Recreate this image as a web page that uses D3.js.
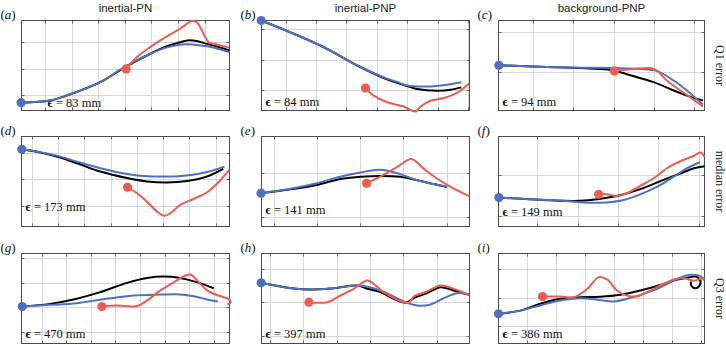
<!DOCTYPE html>
<html><head><meta charset="utf-8">
<script src="https://cdn.jsdelivr.net/npm/d3@7"></script>
<style>body{margin:0;background:#fff;overflow:hidden}</style>
</head><body><svg id="chart" width="726" height="345"></svg>
<script>
// ---------- data (grid units: one unit = one grid cell) ----------
const columnTitles = ["inertial-PN", "inertial-PNP", "background-PNP"];
const rowLabels = ["Q1 error", "median error", "Q3 error"];
const panelLetters = ["a", "b", "c", "d", "e", "f", "g", "h", "i"];
const errorsMm = [83, 84, 94, 173, 141, 149, 470, 397, 386];

const xLimits = [[0.115, 7.94], [0.21, 7.05], [0.13, 5.27],
                 [0.61, 8.53], [0.72, 5.53], [0.04, 5.14],
                 [0.18, 8.64], [0.75, 6.98], [0.02, 7.13]];
const yLimits = [[0.435, 3.82], [0.33, 3.29], [0.04, 2.29],
                 [0.2, 3.64], [0.77, 2.85], [0.73, 2.97],
                 [0.52, 4.2], [0.76, 3.46], [0.41, 3.53]];

const blackPaths = [
  [[0.1,0.73],[1.19,0.81],[1.82,1.0],[3.08,1.5],[4.0,2.06],[4.96,2.57],[5.59,2.85],[6.09,3.0],[6.35,3.07],[6.7,3.05],[7.1,2.94],[7.5,2.83],[7.93,2.69]],
  [[0.2,3.29],[1.16,2.9],[2.26,2.41],[3.36,1.81],[4.23,1.4],[4.67,1.24],[5.33,1.04],[5.99,0.98],[6.43,1.01],[6.78,1.09]],
  [[0.14,1.17],[1.34,1.13],[2.17,1.1],[2.6,1.08],[3.0,1.04],[3.42,0.92],[4.0,0.75],[4.5,0.54],[4.92,0.38],[5.23,0.29]],
  [[0.62,3.15],[1.32,3.03],[1.95,2.87],[2.72,2.62],[3.61,2.3],[4.63,2.05],[5.39,1.92],[6.15,1.88],[6.92,1.94],[7.68,2.11],[8.29,2.4]],
  [[0.71,1.54],[1.39,1.63],[2.0,1.73],[2.54,1.87],[3.01,1.92],[3.47,1.94],[3.93,1.92],[4.4,1.82],[4.7,1.75],[5.01,1.68]],
  [[0.05,1.45],[0.82,1.41],[1.65,1.37],[2.06,1.37],[2.48,1.41],[3.05,1.51],[3.55,1.66],[4.05,1.86],[4.54,2.05],[4.88,2.18],[5.14,2.23]],
  [[0.21,2.03],[1.34,2.14],[2.43,2.35],[3.38,2.62],[4.47,3.0],[5.29,3.2],[5.96,3.26],[6.64,3.2],[7.33,3.02],[8.0,2.78]],
  [[0.74,2.58],[1.32,2.47],[2.12,2.38],[2.92,2.42],[3.62,2.5],[3.92,2.4],[4.31,2.3],[4.71,2.1],[5.06,1.98],[5.31,2.12],[5.71,2.27],[6.11,2.45],[6.51,2.35],[6.97,2.22]],
  [[0.02,1.44],[0.77,1.55],[1.46,1.79],[2.15,1.96],[2.84,2.01],[3.54,2.03],[4.23,2.1],[4.92,2.25],[5.61,2.44],[6.19,2.63],[6.54,2.69],[6.8,2.73],[6.96,2.64],[6.98,2.46],[6.84,2.33],[6.68,2.41],[6.66,2.56]]
];
const bluePaths = [
  [[0.1,0.73],[1.19,0.81],[1.82,1.0],[3.08,1.5],[4.0,2.08],[4.96,2.57],[5.59,2.81],[6.16,2.92],[6.6,2.91],[7.1,2.85],[7.5,2.76],[7.93,2.63]],
  [[0.2,3.29],[1.16,2.9],[2.26,2.41],[3.36,1.81],[4.23,1.42],[4.67,1.27],[5.0,1.15],[5.66,1.12],[6.32,1.18],[6.78,1.26]],
  [[0.14,1.17],[1.34,1.13],[2.17,1.11],[3.0,1.1],[3.67,1.08],[4.08,1.03],[4.5,0.79],[4.83,0.54],[5.23,0.19]],
  [[0.62,3.15],[1.32,3.04],[1.95,2.91],[2.72,2.68],[3.61,2.43],[4.63,2.21],[5.39,2.12],[6.15,2.11],[6.92,2.15],[7.68,2.28],[8.34,2.49]],
  [[0.71,1.54],[1.39,1.64],[2.0,1.77],[2.54,1.92],[3.01,2.02],[3.47,2.08],[3.86,2.0],[4.32,1.84],[4.7,1.75],[5.01,1.69]],
  [[0.05,1.45],[0.82,1.41],[1.65,1.37],[2.31,1.32],[2.72,1.33],[3.14,1.39],[3.55,1.53],[3.97,1.72],[4.38,1.97],[4.71,2.18],[5.02,2.33]],
  [[0.21,2.03],[1.34,2.1],[2.43,2.17],[3.65,2.35],[4.74,2.48],[5.83,2.52],[6.51,2.53],[7.19,2.45],[7.73,2.32],[8.17,2.24]],
  [[0.74,2.58],[1.32,2.47],[2.12,2.38],[2.92,2.42],[3.62,2.5],[4.11,2.42],[4.61,2.22],[5.01,2.02],[5.41,1.9],[5.81,1.93],[6.21,2.12],[6.61,2.27],[6.97,2.22]],
  [[0.02,1.44],[0.77,1.55],[1.46,1.73],[2.15,1.9],[2.84,1.98],[3.42,1.93],[4.0,1.87],[4.46,1.96],[5.03,2.13],[5.61,2.36],[6.19,2.65],[6.65,2.79],[7.0,2.74],[7.13,2.59]]
];
const redPaths = [
  [[4.05,2.0],[4.45,2.44],[4.96,2.82],[5.58,3.22],[6.08,3.51],[6.52,3.8],[6.71,3.76],[6.96,3.32],[7.15,3.01],[7.47,2.92],[7.92,2.8]],
  [[3.63,1.07],[3.9,0.82],[4.35,0.6],[4.89,0.46],[5.28,0.3],[5.44,0.46],[5.77,0.65],[6.21,0.74],[6.65,0.92],[7.04,1.22]],
  [[3.02,1.03],[3.5,1.08],[3.92,1.1],[4.08,1.04],[4.33,0.79],[4.67,0.54],[5.0,0.31],[5.23,0.14]],
  [[4.65,1.7],[5.01,1.47],[5.39,1.15],[5.77,0.77],[6.05,0.61],[6.28,0.71],[6.66,1.03],[7.17,1.26],[7.68,1.51],[8.19,1.98],[8.52,2.36]],
  [[3.15,1.77],[3.47,1.92],[3.86,2.15],[4.16,2.33],[4.24,2.31],[4.55,2.04],[5.01,1.73],[5.52,1.47]],
  [[2.52,1.53],[2.72,1.53],[2.97,1.49],[3.22,1.56],[3.55,1.74],[3.88,1.93],[4.21,2.18],[4.55,2.36],[4.88,2.49],[5.04,2.57],[5.14,2.47]],
  [[3.45,2.03],[4.06,2.07],[4.88,2.05],[5.29,2.28],[5.83,2.69],[6.37,3.02],[6.78,3.27],[7.05,3.34],[7.33,3.09],[7.73,2.69],[8.28,2.45],[8.63,2.32],[8.69,2.21],[8.55,2.11]],
  [[2.17,2.0],[2.72,2.0],[3.12,2.2],[3.51,2.4],[3.92,2.65],[4.11,2.55],[4.41,2.3],[4.81,2.08],[5.16,1.98],[5.31,2.17],[5.71,2.32],[6.11,2.5],[6.51,2.4],[6.97,2.22]],
  [[1.54,2.04],[2.15,2.04],[2.61,2.01],[3.08,2.3],[3.48,2.71],[3.77,2.63],[4.11,2.25],[4.46,2.07],[4.81,2.05],[5.15,2.19],[5.61,2.42],[6.07,2.63],[6.42,2.67],[6.76,2.59],[7.0,2.65],[7.13,2.67]]
];

// ---------- layout ----------
const colLeft = [21.5, 261.5, 498.5];
const colWidth = [208, 208, 206];
const rowTop = [20.5, 136.5, 253.5];
const rowHeight = 90;
const epsOffset = [[26, -3.5], [4, -4.5], [4, -4.5], [4, -15.5], [4, -12.5], [4, -10.5], [4, -6], [4, -6], [4, -6]];

const COLORS = {black: "#000000", blue: "#4f6fbf", red: "#ef5b50", grid: "#d8d8d8", frame: "#4a4a4a"};

const svg = d3.select("#chart");

// column titles
columnTitles.forEach((t, c) => {
  svg.append("text").attr("x", colLeft[c] + colWidth[c] / 2).attr("y", 12)
    .attr("text-anchor", "middle").attr("font-family", "Liberation Sans, Arial, sans-serif")
    .attr("font-size", 11.5).attr("fill", "#222").text(t);
});
// row labels
rowLabels.forEach((t, r) => {
  svg.append("text").attr("transform", `translate(716,${rowTop[r] + rowHeight / 2}) rotate(90)`)
    .attr("text-anchor", "middle").attr("font-family", "Liberation Serif, Times New Roman, serif")
    .attr("font-size", 12).attr("fill", "#222").text(t);
});

const line = d3.line().curve(d3.curveCatmullRom.alpha(0.5));

for (let p = 0; p < 9; p++) {
  const r = Math.floor(p / 3), c = p % 3;
  const L = colLeft[c], T = rowTop[r], W = colWidth[c], H = rowHeight;
  const x = d3.scaleLinear().domain(xLimits[p]).range([L, L + W]);
  const y = d3.scaleLinear().domain(yLimits[p]).range([T + H, T]);
  const g = svg.append("g");
  const xt = d3.range(Math.ceil(xLimits[p][0]), Math.floor(xLimits[p][1]) + 1);
  const yt = d3.range(Math.ceil(yLimits[p][0]), Math.floor(yLimits[p][1]) + 1);

  // grid
  g.selectAll(".gx").data(xt).join("line")
    .attr("x1", d => Math.round(x(d)) + 0.5).attr("x2", d => Math.round(x(d)) + 0.5)
    .attr("y1", T).attr("y2", T + H).attr("stroke", COLORS.grid).attr("stroke-width", 1);
  g.selectAll(".gy").data(yt).join("line")
    .attr("y1", d => Math.round(y(d)) + 0.5).attr("y2", d => Math.round(y(d)) + 0.5)
    .attr("x1", L).attr("x2", L + W).attr("stroke", COLORS.grid).attr("stroke-width", 1);

  // ticks (inward, all sides)
  const tk = 3;
  xt.forEach(d => {
    const xx = Math.round(x(d)) + 0.5;
    g.append("line").attr("x1", xx).attr("x2", xx).attr("y1", T).attr("y2", T + tk).attr("stroke", COLORS.frame).attr("stroke-width", 0.8);
    g.append("line").attr("x1", xx).attr("x2", xx).attr("y1", T + H).attr("y2", T + H - tk).attr("stroke", COLORS.frame).attr("stroke-width", 0.8);
  });
  yt.forEach(d => {
    const yy = Math.round(y(d)) + 0.5;
    g.append("line").attr("y1", yy).attr("y2", yy).attr("x1", L).attr("x2", L + tk).attr("stroke", COLORS.frame).attr("stroke-width", 0.8);
    g.append("line").attr("y1", yy).attr("y2", yy).attr("x1", L + W).attr("x2", L + W - tk).attr("stroke", COLORS.frame).attr("stroke-width", 0.8);
  });

  // frame
  g.append("rect").attr("x", L).attr("y", T).attr("width", W).attr("height", H)
    .attr("fill", "none").attr("stroke", COLORS.frame).attr("stroke-width", 1);

  // epsilon text
  const et = g.append("text").attr("x", L + epsOffset[p][0]).attr("y", T + H + epsOffset[p][1])
    .attr("font-family", "Liberation Serif, Times New Roman, serif").attr("font-size", 12.5).attr("fill", "#111");
  et.append("tspan").attr("font-weight", "bold").text("\u03F5");
  et.append("tspan").text(` = ${errorsMm[p]} mm`);

  // curves
  const toPx = pts => pts.map(d => [x(d[0]), y(d[1])]);
  g.append("path").attr("d", line(toPx(blackPaths[p]))).attr("fill", "none")
    .attr("stroke", COLORS.black).attr("stroke-width", 2).attr("stroke-linejoin", "round");
  g.append("path").attr("d", line(toPx(bluePaths[p]))).attr("fill", "none")
    .attr("stroke", COLORS.blue).attr("stroke-width", 2).attr("stroke-linejoin", "round");
  g.append("path").attr("d", line(toPx(redPaths[p]))).attr("fill", "none")
    .attr("stroke", COLORS.red).attr("stroke-width", 2).attr("stroke-linejoin", "round");

  // start dots
  g.append("circle").attr("cx", x(bluePaths[p][0][0])).attr("cy", y(bluePaths[p][0][1])).attr("r", 4.6).attr("fill", COLORS.blue);
  g.append("circle").attr("cx", x(redPaths[p][0][0])).attr("cy", y(redPaths[p][0][1])).attr("r", 4.6).attr("fill", COLORS.red);

  // panel letter
  const lt = svg.append("text").attr("x", L - 21).attr("y", T - 1.5)
    .attr("font-family", "Liberation Serif, Times New Roman, serif").attr("font-size", 13).attr("fill", "#111");
  lt.append("tspan").text("(");
  lt.append("tspan").attr("font-style", "italic").text(panelLetters[p]);
  lt.append("tspan").text(")");
}
</script>
</body></html>
